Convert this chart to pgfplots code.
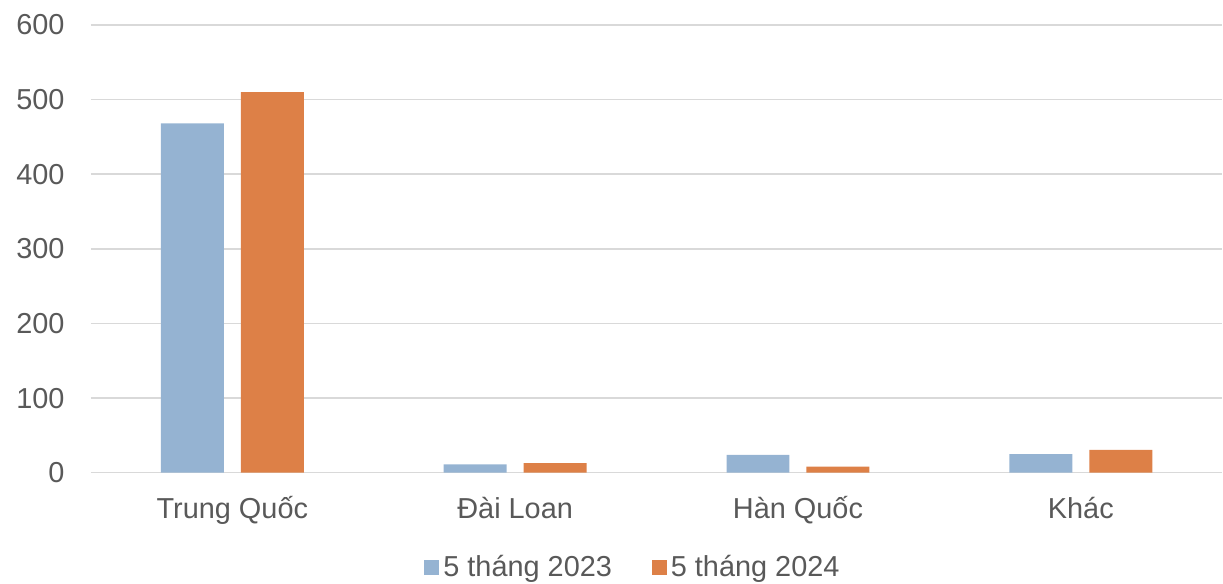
\documentclass[border=0pt]{standalone}
\usepackage{pgfplots}
\pgfplotsset{compat=1.18}
\usepackage{fontspec}
\setmainfont{Liberation Sans}

\definecolor{bluebar}{RGB}{149,179,210}
\definecolor{orangebar}{RGB}{221,128,71}
\definecolor{gridgray}{RGB}{217,217,217}
\definecolor{txtgray}{RGB}{89,89,89}

\begin{document}
\begin{tikzpicture}
  \path (-45.5bp,-53.5bp) rectangle (566bp,236.5bp);
  \begin{axis}[
      at={(0,0)}, anchor=south west,
      scale only axis,
      width=566bp, height=224bp,
      ybar, bar width=31.5bp,
      ymin=0, ymax=600,
      xmin=-0.5, xmax=3.5,
      xtick=data,
      xticklabels={Trung Quốc, Đài Loan, Hàn Quốc, Khác},
      ytick={0,100,...,600},
      axis y line*=left,
      axis x line*=bottom,
      x axis line style={draw=gridgray, thick, -},
      y axis line style={draw=none, -},
      ymajorgrids,
      grid style={draw=gridgray, thick},
      major tick length=0pt,
      tick style={draw=none},
      /pgf/number format/assume math mode=true,
      every tick label/.append style={font=\fontsize{14.5}{17}\selectfont, text=txtgray, inner sep=0pt},
      xticklabel style={anchor=base, yshift=-23bp},
      yticklabel style={anchor=east, xshift=-13bp},
      legend style={
        at={(0.48,-0.212)}, anchor=center,
        draw=none, fill=none,
        font=\fontsize{14.5}{17}\selectfont, text=txtgray,
        legend columns=2,
        /tikz/every even column/.append style={column sep=18bp},
        inner sep=0pt,
      },
      legend image code/.code={\fill[#1] (0bp,-3.8bp) rectangle (7.5bp,3.7bp);},
      legend cell align=left,
    ]
    \addplot[fill=bluebar, draw=none, bar shift=-20bp] coordinates {(0,468) (1,11) (2,24) (3,25)};
    \addplot[fill=orangebar, draw=none, bar shift=20bp] coordinates {(0,510) (1,13) (2,8) (3,30.5)};
    \legend{5 tháng 2023, 5 tháng 2024}
  \end{axis}
\end{tikzpicture}
\end{document}
